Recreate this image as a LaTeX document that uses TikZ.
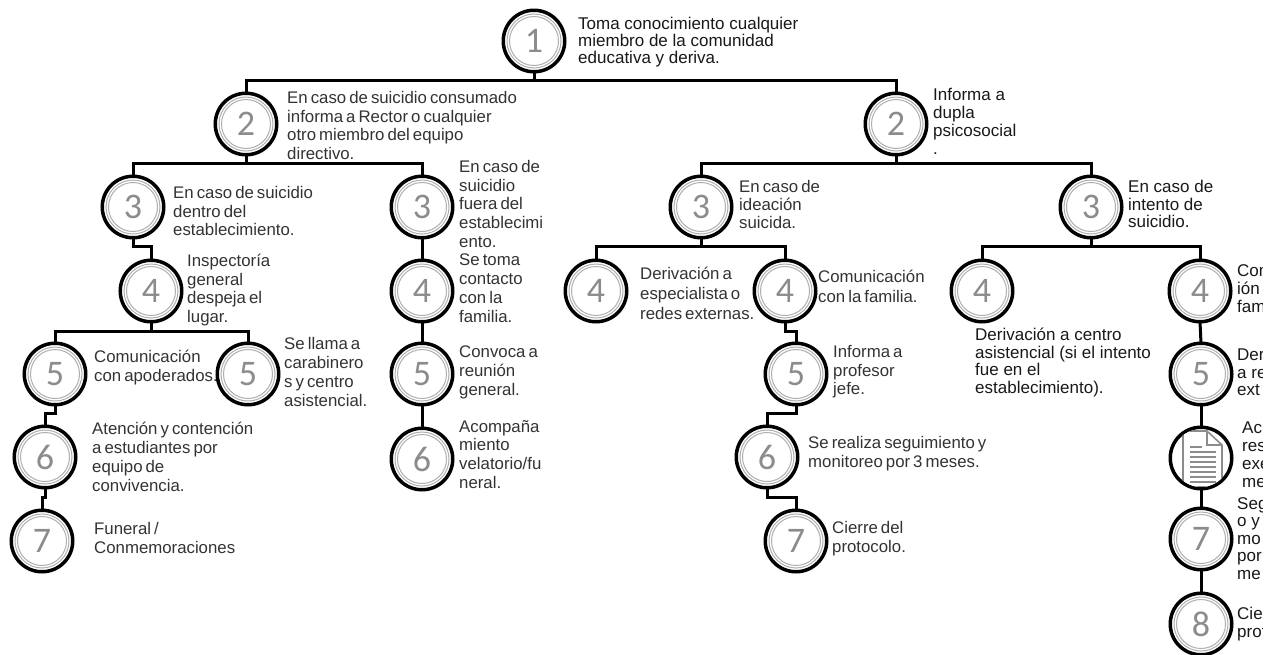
\documentclass[tikz,border=0pt]{standalone}
\usepackage{fontspec}
\setmainfont{Liberation Sans}
\newfontfamily\numfont{Carlito}
\newfontfamily\aptosfont[WordSpace=0.65]{Liberation Sans}
\definecolor{numgray}{gray}{0.55}
\tikzset{
  x=1pt,y=-1pt,
  ringbase/.style={circle,draw=black,line width=3.5pt,fill=white,minimum size=61.5pt,inner sep=0pt,outer sep=0pt},
  ring/.style={ringbase,text=numgray,
    font=\numfont\fontsize{36}{36}\selectfont,
    path picture={
      \draw[numgray!70,line width=1pt] (path picture bounding box.center) circle (27pt);
      \draw[numgray!70,line width=1pt] (path picture bounding box.center) circle (24.5pt);
    }},
  txtbase/.style={anchor=north west,inner sep=0pt,align=left,execute at begin node={\rule{0pt}{13pt}}},
  txt/.style={txtbase,text=black!90,font=\fontsize{17}{#1}\selectfont},
  txt/.default=18.7,
  apt/.style={txtbase,text=black!80,font=\aptosfont\fontsize{16.8}{#1}\selectfont},
  apt/.default=18.7,
  conn/.style={draw=black,line width=3pt,line join=miter},
}
\newcommand{\stepnode}[4]{\node[ring] (#1) at (#2,#3) {#4};}
\begin{document}
\begin{tikzpicture}
\useasboundingbox (0,0) rectangle (1270,654);
\fill[white] (0,0) rectangle (1270,654);
% circles
\stepnode{a1}{534}{41}{1}
\stepnode{bL}{246}{124}{2}
\stepnode{bR}{896}{124}{2}
\stepnode{cA}{133}{207}{3}
\stepnode{cB}{422}{207}{3}
\stepnode{cC}{701}{207}{3}
\stepnode{cD}{1091}{207}{3}
\stepnode{dA}{151}{291}{4}
\stepnode{dB}{422}{291}{4}
\stepnode{dC}{596}{291}{4}
\stepnode{dD}{785}{291}{4}
\stepnode{dE}{982}{291}{4}
\stepnode{dF}{1200}{291}{4}
\stepnode{eA}{55}{374}{5}
\stepnode{eB}{248}{374}{5}
\stepnode{eC}{422}{374}{5}
\stepnode{eD}{796}{374}{5}
\stepnode{eF}{1201}{374}{5}
\stepnode{fA}{45}{457}{6}
\stepnode{fC}{422}{459}{6}
\stepnode{fD}{767}{457}{6}
\node[ringbase] (fF) at (1201,458) {};
\stepnode{gA}{42}{541}{7}
\stepnode{gD}{796}{541}{7}
\stepnode{gF}{1201}{539}{7}
\stepnode{hF}{1201}{624}{8}
% document icon
\begin{scope}[shift={(fF.center)}]
  \clip (0,0) circle (29pt);
  \draw[numgray,line width=1.6pt,fill=white,line join=round] (-18,-27) -- (6,-27) -- (21,-13) -- (21,29) -- (-18,29) -- cycle;
  \draw[numgray,line width=1.2pt] (6,-27) -- (6,-13) -- (21,-13);
  \foreach \yy in {-6,-1,4,9,14,19,24} \draw[numgray,line width=1.4pt] (-11,\yy) -- (15,\yy);
  \draw[numgray,line width=1.4pt] (-11,-11) -- (1,-11);
\end{scope}
% connectors
\draw[conn] (a1.south) -- ++(0,8.5) -| (bL.north);
\draw[conn] (a1.south) -- ++(0,8.5) -| (bR.north);
\draw[conn] (bL.south) -- ++(0,9) -| (cA.north);
\draw[conn] (bL.south) -- ++(0,9) -| (cB.north);
\draw[conn] (bR.south) -- ++(0,9) -| (cC.north);
\draw[conn] (bR.south) -- ++(0,9) -| (cD.north);
\draw[conn] (cA.south) -- ++(0,9) -| (dA.north);
\draw[conn] (cB.south) -- (dB.north);
\draw[conn] (cC.south) -- ++(0,9) -| (dC.north);
\draw[conn] (cC.south) -- ++(0,9) -| (dD.north);
\draw[conn] (cD.south) -- ++(0,9) -| (dE.north);
\draw[conn] (cD.south) -- ++(0,9) -| (dF.north);
\draw[conn] (dA.south) -- ++(0,10) -| (eA.north);
\draw[conn] (dA.south) -- ++(0,10) -| (eB.north);
\draw[conn] (dB.south) -- (eC.north);
\draw[conn] (dD.south) -- ++(0,10) -| (eD.north);
\draw[conn] (dF.south) -- (eF.north);
\draw[conn] (eA.south) -- ++(0,9) -| (fA.north);
\draw[conn] (eC.south) -- (fC.north);
\draw[conn] (eD.south) -- ++(0,9) -| (fD.north);
\draw[conn] (eF.south) -- (fF.north);
\draw[conn] (fA.south) -- ++(0,10) -| (gA.north);
\draw[conn] (fD.south) -- ++(0,10) -| (gD.north);
\draw[conn] (fF.south) -- (gF.north);
\draw[conn] (gF.south) -- (hF.north);
% texts
\node[txt=17] (t1) at (578,17) {Toma conocimiento cualquier\\miembro de la comunidad\\educativa y deriva.};
\node[apt] (t2L) at (287,91) {En caso de suicidio consumado\\informa a Rector o cualquier\\otro miembro del equipo\\directivo.};
\node[txt=18] (t2R) at (933,88) {Informa a\\dupla\\psicosocial\\.};
\node[apt] (t3A) at (173,186) {En caso de suicidio\\dentro del\\establecimiento.};
\node[apt] (t3B) at (459,160) {En caso de\\suicidio\\fuera del\\establecimi\\ento.};
\node[apt=18] (t3C) at (739,180) {En caso de\\ideación\\suicida.};
\node[txt=17.5] (t3D) at (1128,180) {En caso de\\intento de\\suicidio.};
\node[apt] (t4A) at (187,254) {Inspectoría\\general\\despeja el\\lugar.};
\node[apt] (t4B) at (459,254) {Se toma\\contacto\\con la\\familia.};
\node[apt=20] (t4C) at (640,267) {Derivación a\\especialista o\\redes externas.};
\node[apt=20] (t4D) at (818,270) {Comunicación\\con la familia.};
\node[txt=17.5] (t4E) at (975,328) {Derivación a centro\\asistencial (si el intento\\fue en el\\establecimiento).};
\node[apt] (t5A) at (94,350) {Comunicación\\con apoderados.};
\node[apt=19] (t5B) at (284,337) {Se llama a\\carabinero\\s y centro\\asistencial.};
\node[apt] (t5C) at (459,346) {Convoca a\\reunión\\general.};
\node[apt] (t5D) at (833,345) {Informa a\\profesor\\jefe.};
\node[apt=19] (t6A) at (92,422) {Atención y contención\\a estudiantes por\\equipo de\\convivencia.};
\node[apt] (t6C) at (459,420) {Acompaña\\miento\\velatorio/fu\\neral.};
\node[apt=19] (t6D) at (808,436) {Se realiza seguimiento y\\monitoreo por 3 meses.};
\node[apt] (t7A) at (94,522) {Funeral /\\Conmemoraciones};
\node[apt=19] (t7D) at (832,521) {Cierre del\\protocolo.};
\begin{scope}
  \clip (1200,230) rectangle (1262,654);
  \node[txt=18] (t4F) at (1237,264) {Com\\ión\\fam};
  \node[txt=17.5] (t5F) at (1237,349) {Der\\a re\\ext};
  \node[txt=18] (t6F) at (1242,422) {Ac\\res\\exe\\me};
  \node[txt=17.5] (t7F) at (1237,497) {Seg\\o y\\mo\\por\\me};
  \node[txt=18] (t8F) at (1237,607) {Cie\\prot};
\end{scope}
\end{tikzpicture}
\end{document}
